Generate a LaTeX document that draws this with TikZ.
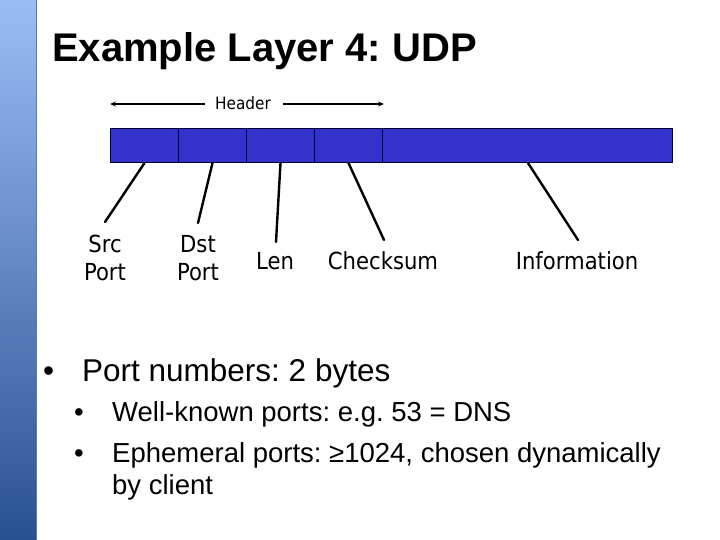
\documentclass[tikz,border=0pt]{standalone}
\usepackage{fontspec}
\setmainfont{Liberation Sans}
\newfontfamily\tah[FakeStretch=0.9]{DejaVu Sans}
\usetikzlibrary{arrows.meta}
\definecolor{bartop}{HTML}{9BBDF6}
\definecolor{barbot}{HTML}{28528F}
\definecolor{fieldblue}{HTML}{3333CC}
\tikzset{
  field/.style={draw=black!80!blue, fill=fieldblue, line width=1pt, minimum height=34pt, inner sep=0pt, anchor=north west},
  lbl/.style={font=\tah\fontsize{23.5}{28.5}\selectfont, align=center, inner sep=0pt},
  ptr/.style={line width=2.4pt, line cap=round},
  harrow/.style={line width=1.3pt, -{Stealth[length=6pt,width=5pt]}},
  btxt/.style={anchor=base west, inner sep=0pt},
}
\frenchspacing
\begin{document}
\begin{tikzpicture}[x=1pt,y=-1pt]
\useasboundingbox (0,0) rectangle (720,540);
\fill[white] (0,0) rectangle (720,540);
% left bar
\shade[top color=bartop, bottom color=barbot] (0,0) rectangle (36,540);
\draw[barbot!60!bartop, line width=1pt] (36,0) -- (36,540);
% title
\node[btxt, font=\bfseries\fontsize{40}{48}\selectfont] (title) at (52,62) {\frenchspacing Example Layer 4: UDP};
% header
\node[font=\tah\fontsize{17}{20}\selectfont, inner sep=0pt] (hdr) at (243,103) {Header};
\coordinate (hl) at (110,104);
\coordinate (hr) at (384,104);
\draw[harrow] (hdr.west) ++(-10,1) -- (hl);
\draw[harrow] (hdr.east) ++(12,1) -- (hr);
% fields
\node[field, minimum width=68pt] (f1) at (110,128) {};
\node[field, minimum width=68pt] (f2) at (178,128) {};
\node[field, minimum width=68pt] (f3) at (246,128) {};
\node[field, minimum width=68pt] (f4) at (314,128) {};
\node[field, minimum width=290pt] (f5) at (382,128) {};
% labels
\node[lbl] (l1) at (105,258) {Src\\Port};
\node[lbl] (l2) at (198,258) {Dst\\Port};
\node[lbl] (l3) at (275,261) {Len};
\node[lbl] (l4) at (383,261) {Checksum};
\node[lbl] (l5) at (577,261) {Information};
\coordinate (e1) at (105,222);
\coordinate (e2) at (198,223);
\coordinate (e3) at (276,242);
\coordinate (e4) at (384,240);
\coordinate (e5) at (578,240);
\draw[ptr] (f1.south) -- (e1);
\draw[ptr] (f2.south) -- (e2);
\draw[ptr] (f3.south) -- (e3);
\draw[ptr] (f4.south) -- (e4);
\draw[ptr] ([xshift=146pt]f5.south west) -- (e5);
% bullets
\node[btxt, font=\fontsize{31.5}{38}\selectfont] (b0) at (43,381) {\textbullet};
\node[btxt, font=\fontsize{31.5}{38}\selectfont] (t0) at (82,381) {Port numbers: 2 bytes};
\node[btxt, font=\fontsize{27.5}{33}\selectfont] (b1) at (74,421) {\textbullet};
\node[btxt, font=\fontsize{27.5}{33}\selectfont] (t1) at (112,421) {Well-known ports: e.g. 53 = DNS};
\node[btxt, font=\fontsize{27.5}{33}\selectfont] (b2) at (74,462) {\textbullet};
\node[btxt, font=\fontsize{27.5}{33}\selectfont] (t2) at (112,462) {Ephemeral ports: ≥1024, chosen dynamically};
\node[btxt, font=\fontsize{27.5}{33}\selectfont] (t3) at (112,494) {by client};
\end{tikzpicture}
\end{document}
